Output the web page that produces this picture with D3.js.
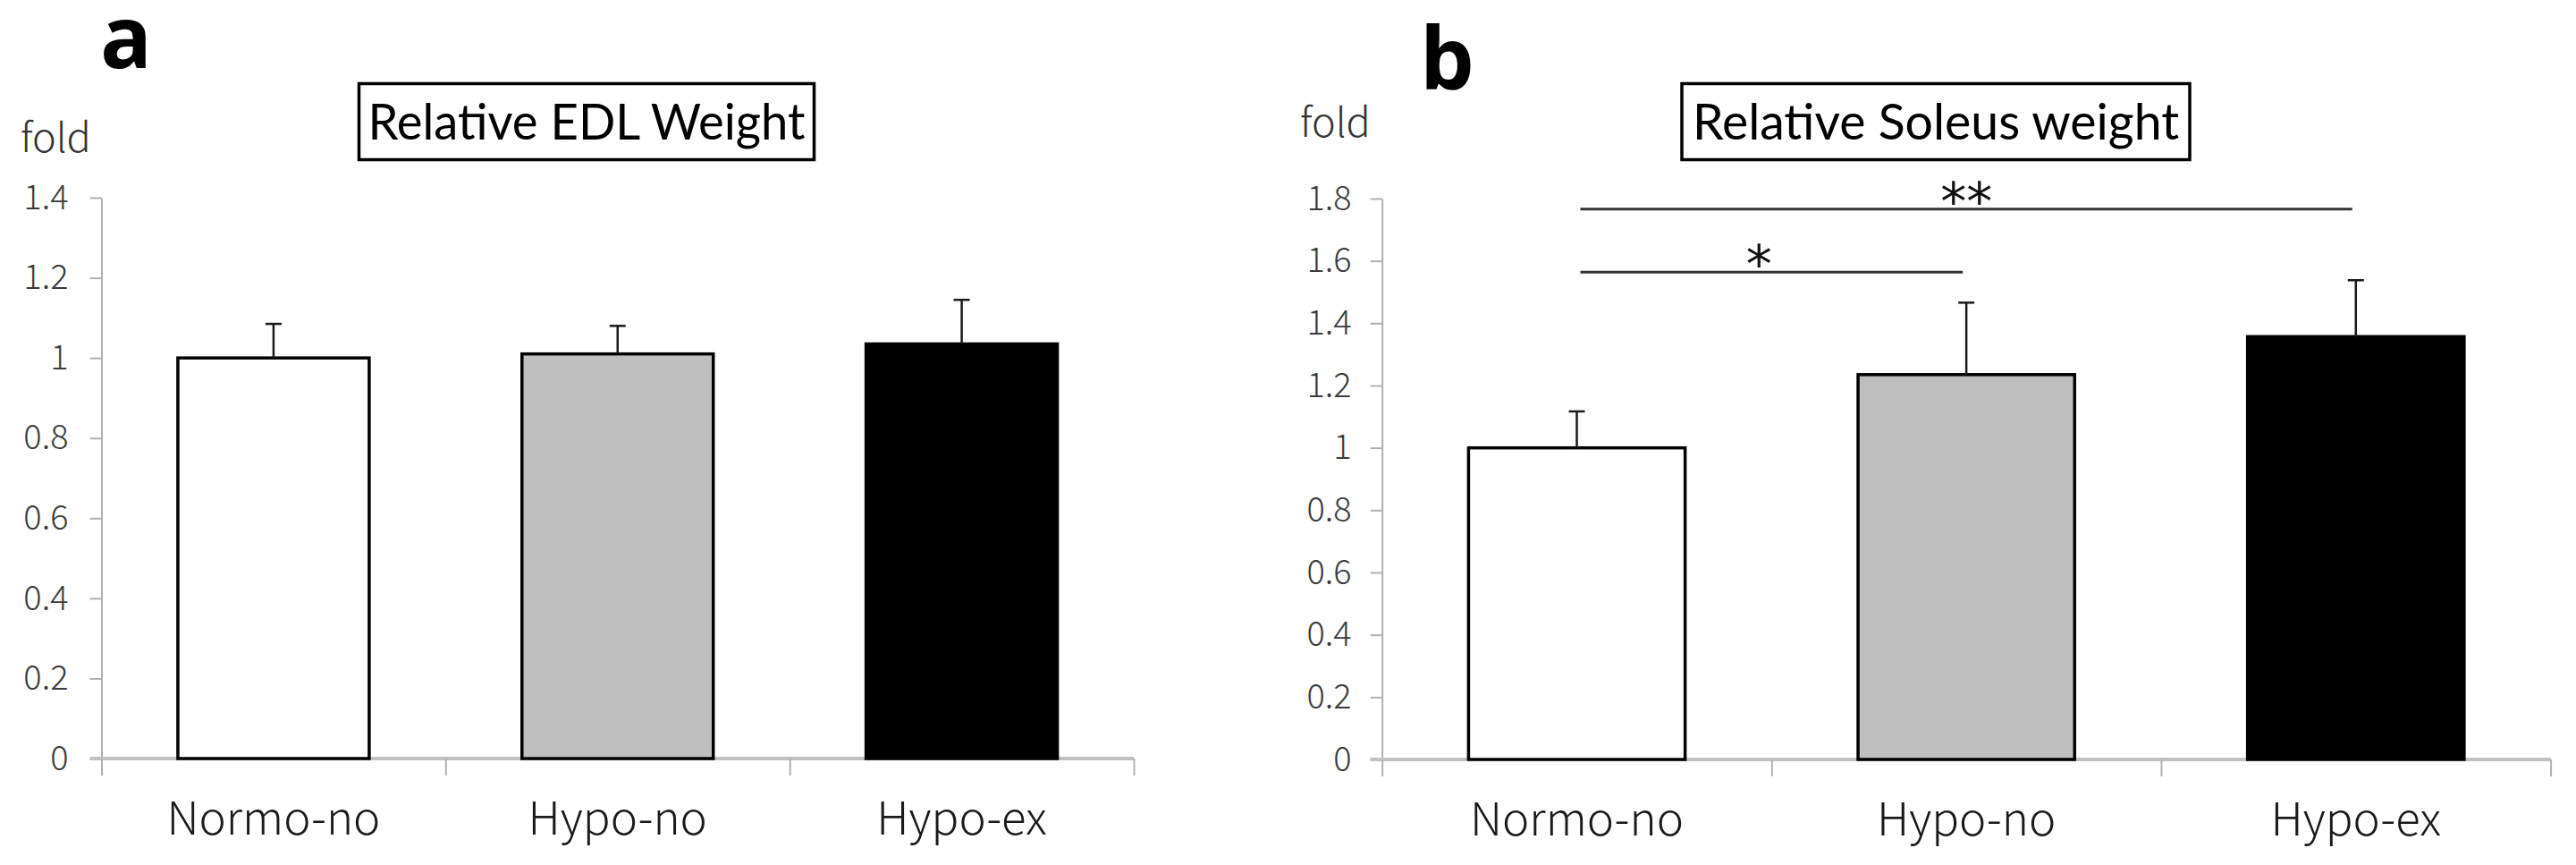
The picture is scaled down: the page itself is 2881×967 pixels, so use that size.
<!DOCTYPE html>
<html><head><meta charset="utf-8">
<script src="https://cdn.jsdelivr.net/npm/d3@7"></script>
<style>body{margin:0;background:#fff}svg{display:block}</style>
</head><body><svg id="c" width="2881" height="967"></svg>
<script>
// ---- data ----
const categories = ["Normo-no", "Hypo-no", "Hypo-ex"];
const edlMeans = [1.000, 1.010, 1.035];
const edlErrors = [0.085, 0.070, 0.110];
const soleusMeans = [1.000, 1.235, 1.357];
const soleusErrors = [0.117, 0.231, 0.181];
const edlTicks = [0, 0.2, 0.4, 0.6, 0.8, 1, 1.2, 1.4];
const soleusTicks = [0, 0.2, 0.4, 0.6, 0.8, 1, 1.2, 1.4, 1.6, 1.8];
const panelLetters = ["a", "b"];
const panelTitles = ["Relative EDL Weight", "Relative Soleus weight"];
const yAxisUnit = "fold";
const soleusSigPairs = [[0, 2], [0, 1]];
const soleusSigLabels = ["**", "*"];
const soleusSigLevels = [1.766, 1.564];
const barFills = ["#ffffff", "#bfbfbf", "#000000"];

// ---- layout ----
const W = 2881, H = 967;
const svg = d3.select("#c").attr("viewBox", `0 0 ${W} ${H}`);
const gothic = "'Noto Sans CJK JP', 'Noto Sans', sans-serif";
const titleFont = "Lato, 'Open Sans', sans-serif";

const panels = [
  { means: edlMeans, errs: edlErrors, ticks: edlTicks, sig: [],
    x0: 113.5, x1: 1268, yTop: 221, yBot: 848, letterX: 112, letterY: 76,
    foldX: 23, foldY: 170, box: [401.5, 93.5, 509, 85], titleW: 489, tickPad: 24 },
  { means: soleusMeans, errs: soleusErrors, ticks: soleusTicks,
    sig: soleusSigPairs.map((p, i) => ({ a: p[0], b: p[1], label: soleusSigLabels[i], level: soleusSigLevels[i] })),
    x0: 1545.7, x1: 2852.6, yTop: 222, yBot: 849, letterX: 1588, letterY: 100,
    foldX: 1454, foldY: 153, box: [1881, 93.5, 568, 85], titleW: 544, tickPad: 21 }
];

panels.forEach((P, pi) => {
  const g = svg.append("g");
  const yMax = P.ticks[P.ticks.length - 1];
  const y = d3.scaleLinear().domain([0, yMax]).range([P.yBot, P.yTop]);
  const xb = d3.scaleBand().domain(categories).range([P.x0, P.x1])
    .paddingInner(0.444).paddingOuter(0.222);
  const xc = d3.scaleLinear().domain([0, categories.length]).range([P.x0, P.x1]);

  // panel letter
  g.append("text").attr("x", P.letterX).attr("y", P.letterY)
    .attr("font-family", "'Open Sans', Lato, sans-serif").attr("font-weight", 700)
    .attr("font-size", 96).attr("fill", "#000").text(panelLetters[pi]);

  // unit label
  g.append("text").attr("x", P.foldX).attr("y", P.foldY)
    .attr("font-family", gothic).attr("font-weight", 300)
    .attr("font-size", 45).attr("fill", "#333").text(yAxisUnit);

  // title box
  const [bx, by, bw, bh] = P.box;
  g.append("rect").attr("x", bx).attr("y", by).attr("width", bw).attr("height", bh)
    .attr("fill", "#fff").attr("stroke", "#000").attr("stroke-width", 3.5);
  g.append("text").attr("x", bx + bw / 2).attr("y", 156)
    .attr("text-anchor", "middle").attr("font-family", titleFont)
    .attr("font-size", 56).attr("fill", "#000")
    .attr("textLength", P.titleW).attr("lengthAdjust", "spacingAndGlyphs")
    .text(panelTitles[pi]);

  // y axis
  const ya = g.append("g").attr("transform", `translate(${P.x0},0)`)
    .call(d3.axisLeft(y).tickValues(P.ticks).tickSize(13).tickSizeOuter(0)
      .tickPadding(P.tickPad).tickFormat(d3.format("~g")));
  ya.select(".domain").attr("stroke", "#b0b0b0").attr("stroke-width", 2);
  ya.selectAll(".tick line").attr("stroke", "#b0b0b0").attr("stroke-width", 2);
  ya.selectAll(".tick text").attr("font-family", gothic).attr("font-weight", 300)
    .attr("font-size", 38).attr("fill", "#3a3a3a");

  // x axis (category boundaries)
  const xa = g.append("g").attr("transform", `translate(0,${P.yBot})`)
    .call(d3.axisBottom(xc).tickValues(d3.range(0, categories.length + 1))
      .tickSize(19).tickSizeOuter(0).tickFormat(""));
  xa.select(".domain").attr("stroke", "#c0c0c0").attr("stroke-width", 4)
    .attr("d", `M${P.x0 - 13},0H${P.x1}`);
  xa.selectAll(".tick line").attr("stroke", "#b0b0b0").attr("stroke-width", 2);

  // category labels
  const la = g.append("g").attr("transform", `translate(0,${P.yBot})`)
    .call(d3.axisBottom(xb).tickSize(0).tickPadding(0));
  la.select(".domain").remove();
  la.selectAll(".tick text").attr("y", 85).attr("dy", 0)
    .attr("font-family", gothic).attr("font-weight", 300)
    .attr("font-size", 51).attr("fill", "#1a1a1a");

  // bars
  g.selectAll("rect.bar").data(P.means).join("rect").attr("class", "bar")
    .attr("x", (d, i) => xb(categories[i])).attr("width", xb.bandwidth())
    .attr("y", d => y(d)).attr("height", d => y(0) - y(d))
    .attr("fill", (d, i) => barFills[i]).attr("stroke", "#000").attr("stroke-width", 3.5);

  // error bars
  const eb = g.selectAll("g.err").data(P.means).join("g").attr("class", "err")
    .attr("stroke", "#1a1a1a").attr("stroke-width", 2.5);
  eb.append("line")
    .attr("x1", (d, i) => xb(categories[i]) + xb.bandwidth() / 2)
    .attr("x2", (d, i) => xb(categories[i]) + xb.bandwidth() / 2)
    .attr("y1", d => y(d)).attr("y2", (d, i) => y(d + P.errs[i]));
  eb.append("line")
    .attr("x1", (d, i) => xb(categories[i]) + xb.bandwidth() / 2 - 9)
    .attr("x2", (d, i) => xb(categories[i]) + xb.bandwidth() / 2 + 9)
    .attr("y1", (d, i) => y(d + P.errs[i])).attr("y2", (d, i) => y(d + P.errs[i]));

  // significance brackets
  const cx = i => xb(categories[i]) + xb.bandwidth() / 2;
  const sg = g.selectAll("g.sig").data(P.sig).join("g").attr("class", "sig");
  sg.append("line").attr("x1", d => cx(d.a) + 4).attr("x2", d => cx(d.b) - 4)
    .attr("y1", d => y(d.level)).attr("y2", d => y(d.level))
    .attr("stroke", "#333").attr("stroke-width", 3);
  sg.append("text").attr("x", d => (cx(d.a) + cx(d.b)) / 2 - (d.b - d.a === 1 ? 14 : 0))
    .attr("y", d => y(d.level) + 12).attr("text-anchor", "middle")
    .attr("font-family", "'DejaVu Sans', sans-serif").attr("font-size", 58).attr("fill", "#111")
    .text(d => d.label);
});
</script></body></html>
